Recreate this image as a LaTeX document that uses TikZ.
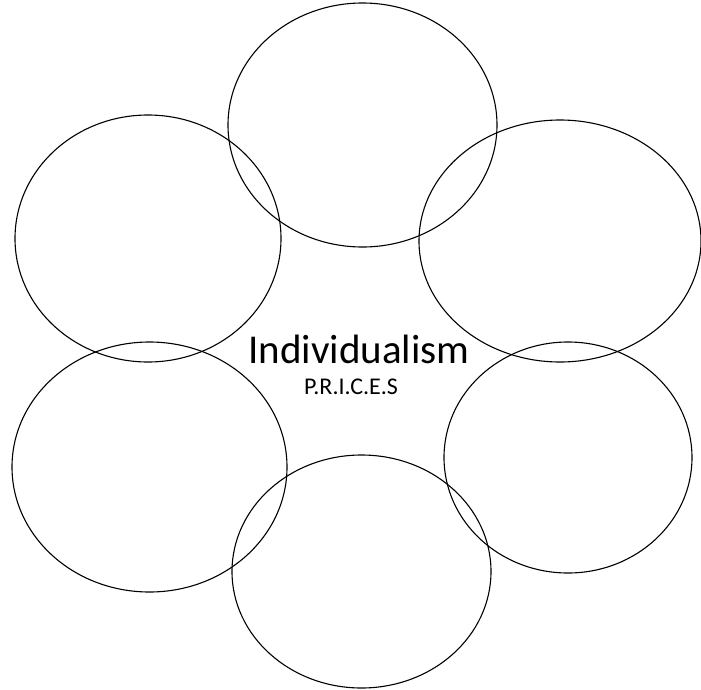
\documentclass[tikz,border=0pt]{standalone}
\usepackage{fontspec}
\setmainfont{Carlito}
\usepackage{tikz}

\begin{document}
\begin{tikzpicture}[x=1pt,y=-1pt,line width=1.1pt]
  \useasboundingbox (0,0) rectangle (701,689);
  % six ovals round the middle
  \draw (362.5,125) ellipse [x radius=134.5,y radius=122];
  \draw (148,238.5) ellipse [x radius=133,y radius=123.5];
  \draw (560,241) ellipse [x radius=141,y radius=121];
  \draw (149.5,467) ellipse [x radius=137.5,y radius=125];
  \draw (568,457.5) ellipse [x radius=124,y radius=115.5];
  \draw (361.5,571.5) ellipse [x radius=129.5,y radius=116.5];
  \node[anchor=base,inner sep=0pt,font=\fontsize{41}{41}\selectfont] (title) at (359,363) {Individualism};
  \node[anchor=base,inner sep=0pt,font=\fontsize{24}{24}\selectfont] (prices) at (351,394) {P.R.I.C.E.S};
\end{tikzpicture}
\end{document}
